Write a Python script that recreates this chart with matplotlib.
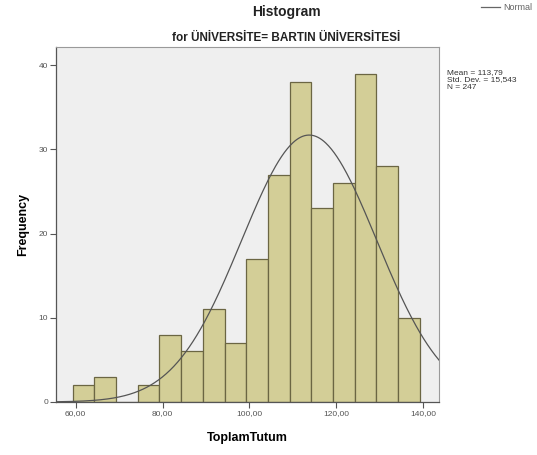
"""SPSS-style histogram of ToplamTutum for Bartin Universitesi with normal curve."""

import matplotlib

matplotlib.use("Agg")
import matplotlib.pyplot as plt
import numpy as np

# Histogram data
bin_start = 59.3
bin_width = 5.0
counts = [2, 3, 0, 2, 8, 6, 11, 7, 17, 27, 38, 23, 26, 39, 28, 10]

mean = 113.79
std_dev = 15.543
n_obs = 247

x_ticks = [60, 80, 100, 120, 140]
x_tick_labels = ["60,00", "80,00", "100,00", "120,00", "140,00"]
y_ticks = [0, 10, 20, 30, 40]
stats_lines = ["Mean = 113,79", "Std. Dev. = 15,543", "N = 247"]

plt.rcParams["font.family"] = ["Liberation Sans", "DejaVu Sans"]

fig = plt.figure(figsize=(5.37, 4.55), dpi=100)
ax = fig.add_axes([0.1034, 0.1165, 0.7141, 0.781])
ax.set_facecolor("#EFEFEF")

# Bars
edges = bin_start + bin_width * np.arange(len(counts) + 1)
ax.bar(
    edges[:-1],
    counts,
    width=bin_width,
    align="edge",
    color="#D3CE97",
    edgecolor="#6B6643",
    linewidth=0.9,
    zorder=2,
)

xmin, xmax = 55.35, 143.7
ax.set_xlim(xmin, xmax)
ax.set_ylim(0, 42.2)

# Normal curve scaled to counts
xs = np.linspace(xmin, xmax, 400)
scale = n_obs * bin_width / (std_dev * np.sqrt(2 * np.pi))
ys = scale * np.exp(-0.5 * ((xs - mean) / std_dev) ** 2)
ax.plot(xs, ys, color="#555555", linewidth=0.9, zorder=3)

ax.set_xticks(x_ticks)
ax.set_xticklabels(x_tick_labels)
ax.set_yticks(y_ticks)
ax.tick_params(axis="both", labelsize=6, labelcolor="#555555", color="#555555",
               length=4, width=0.8, pad=1.5)

for side in ["top", "right"]:
    ax.spines[side].set_color("#9A9A9A")
    ax.spines[side].set_linewidth(0.8)
for side in ["left", "bottom"]:
    ax.spines[side].set_color("#555555")
    ax.spines[side].set_linewidth(0.9)

ax.set_xlabel("ToplamTutum", fontsize=9, fontweight="bold", labelpad=11)
ax.set_ylabel("Frequency", fontsize=9, fontweight="bold", labelpad=7)

# Titles
fig.text(286 / 537, 1 - 12 / 455, "Histogram", ha="center", va="center",
         fontsize=10, fontweight="bold", color="#222222")
fig.text(286 / 537, 1 - 38 / 455, "for ÜNİVERSİTE= BARTIN ÜNİVERSİTESİ",
         ha="center", va="center", fontsize=8.5, fontweight="bold", color="#222222")

# Stats box
fig.text(447 / 537, 1 - 69 / 455, "\n".join(stats_lines),
         ha="left", va="top", fontsize=6, color="#333333", linespacing=1.1)

# Legend
fig.add_artist(plt.Line2D([481 / 537, 500 / 537], [1 - 7 / 455, 1 - 7 / 455],
                          color="#666666", linewidth=0.9))
fig.text(503 / 537, 1 - 7 / 455, "Normal", ha="left", va="center",
         fontsize=6.5, color="#666666")

fig.savefig("out.png", dpi=100)
